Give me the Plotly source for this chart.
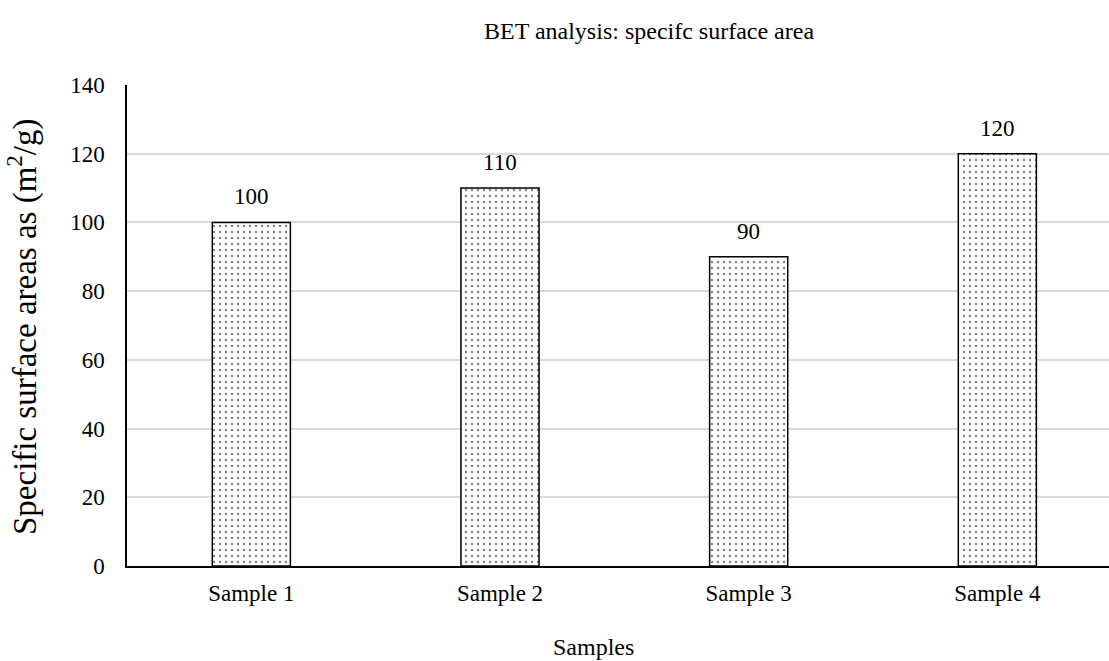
import plotly.graph_objects as go

samples = ["Sample 1", "Sample 2", "Sample 3", "Sample 4"]
surface_area = [100, 110, 90, 120]
y_ticks = [0, 20, 40, 60, 80, 100, 120, 140]

FONT = "Liberation Serif"
W, H = 1109, 661
ML, MR, MT, MB = 127, 0, 85, 95
plot_w = W - ML - MR

fig = go.Figure()
fig.add_trace(go.Bar(
    x=samples,
    y=surface_area,
    marker=dict(
        color="white",
        line=dict(color="black", width=1.5),
        pattern=dict(shape=".", size=6, solidity=0.12, fgcolor="black", bgcolor="white"),
    ),
    showlegend=False,
))

for s, v in zip(samples, surface_area):
    fig.add_annotation(x=s, y=v, text=str(v), showarrow=False, yanchor="bottom",
                       yshift=11, font=dict(family=FONT, size=23, color="#000000"))

def px_x(px):
    return (px - ML) / plot_w

def px_y(py):
    return (H - MB - py) / (H - MT - MB)

fig.add_annotation(xref="paper", yref="paper", x=px_x(482), y=px_y(31), text="BET analysis: specifc surface area",
                   showarrow=False, xanchor="left", yanchor="middle",
                   font=dict(family=FONT, size=24, color="#000000"))
fig.add_annotation(xref="paper", yref="paper", x=px_x(593), y=px_y(647), text="Samples",
                   showarrow=False, xanchor="center", yanchor="middle",
                   font=dict(family=FONT, size=24, color="#000000"))
fig.add_annotation(xref="paper", yref="paper", x=px_x(22), y=px_y(327), text="Specific surface areas as (m<sup>2</sup>/g)",
                   showarrow=False, xanchor="center", yanchor="middle", textangle=-90,
                   font=dict(family=FONT, size=33, color="#000000"))

fig.update_layout(
    width=W, height=H,
    margin=dict(l=ML, r=MR, t=MT, b=MB),
    paper_bgcolor="white", plot_bgcolor="white",
    bargap=0.686,
    font=dict(family=FONT, size=23, color="#000000"),
    xaxis=dict(
        type="category", range=[-0.5, 3.449],
        showline=True, linecolor="black", linewidth=1.5,
        showgrid=False, ticks="", ticklabelstandoff=6,
        tickfont=dict(family=FONT, size=23, color="#000000"),
    ),
    yaxis=dict(
        range=[0, 140], tickvals=y_ticks,
        showline=True, linecolor="black", linewidth=1.5,
        showgrid=True, gridcolor="#d9d9d9", gridwidth=1.5,
        ticks="", ticklabelstandoff=16, zeroline=False,
        tickfont=dict(family=FONT, size=23, color="#000000"),
    ),
)

fig.write_html("out.html")
